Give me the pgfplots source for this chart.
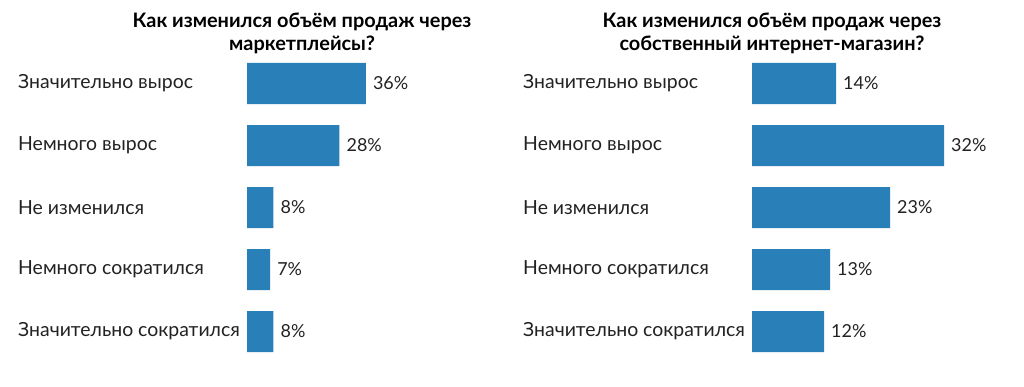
\documentclass[border=0pt]{standalone}
\usepackage{fontspec}
\setmainfont{Lato}
\usepackage{pgfplots}
\pgfplotsset{compat=1.18}
\definecolor{barblue}{HTML}{2980B9}
\definecolor{txt}{HTML}{222222}
\pgfplotsset{
  panel/.style={
    xbar, bar width=41bp, bar shift=0pt,
    y=62bp, y dir=reverse, ymin=-0.5, ymax=4.5,
    xmin=0, clip=false,
    axis line style={draw=none},
    xtick=\empty, ytick={0,1,2,3,4},
    major tick length=0pt, tick style={draw=none},
    /pgf/number format/assume math mode=true,
    yticklabels={Значительно вырос,Немного вырос,Не изменился,Немного сократился,Значительно сократился},
    yticklabel style={anchor=west, inner sep=0pt, xshift=-229bp, font=\fontsize{19.5}{22}\selectfont, text=txt},
    nodes near coords={\pgfmathprintnumber[assume math mode=true]{\pgfplotspointmeta}\%},
    nodes near coords align={horizontal},
    every node near coord/.append style={anchor=west, inner sep=0pt, xshift=7bp, font=\fontsize{18}{20}\selectfont, text=txt},
    anchor=north west,
  }
}
\begin{document}
\begin{tikzpicture}[x=1bp,y=1bp]
\fill[white] (0,0) rectangle (1024,386);
\path[use as bounding box] (0,0) rectangle (1024,386);
\node[align=center, font=\bfseries\fontsize{20}{23}\selectfont, text=black] at (302,352.5) {Как изменился объём продаж через\\маркетплейсы?};
\node[align=center, font=\bfseries\fontsize{20}{23}\selectfont, text=black] at (772,352.5) {Как изменился объём продаж через\\собственный интернет-магазин?};
\begin{axis}[panel, x=3.3bp, xmax=45, at={(247bp,333.5bp)}]
\addplot[fill=barblue, draw=none] coordinates {(36,0) (28,1) (8,2) (7,3) (8,4)};
\end{axis}
\begin{axis}[panel, x=6bp, xmax=40, at={(752bp,333.5bp)}]
\addplot[fill=barblue, draw=none] coordinates {(14,0) (32,1) (23,2) (13,3) (12,4)};
\end{axis}
\end{tikzpicture}
\end{document}
